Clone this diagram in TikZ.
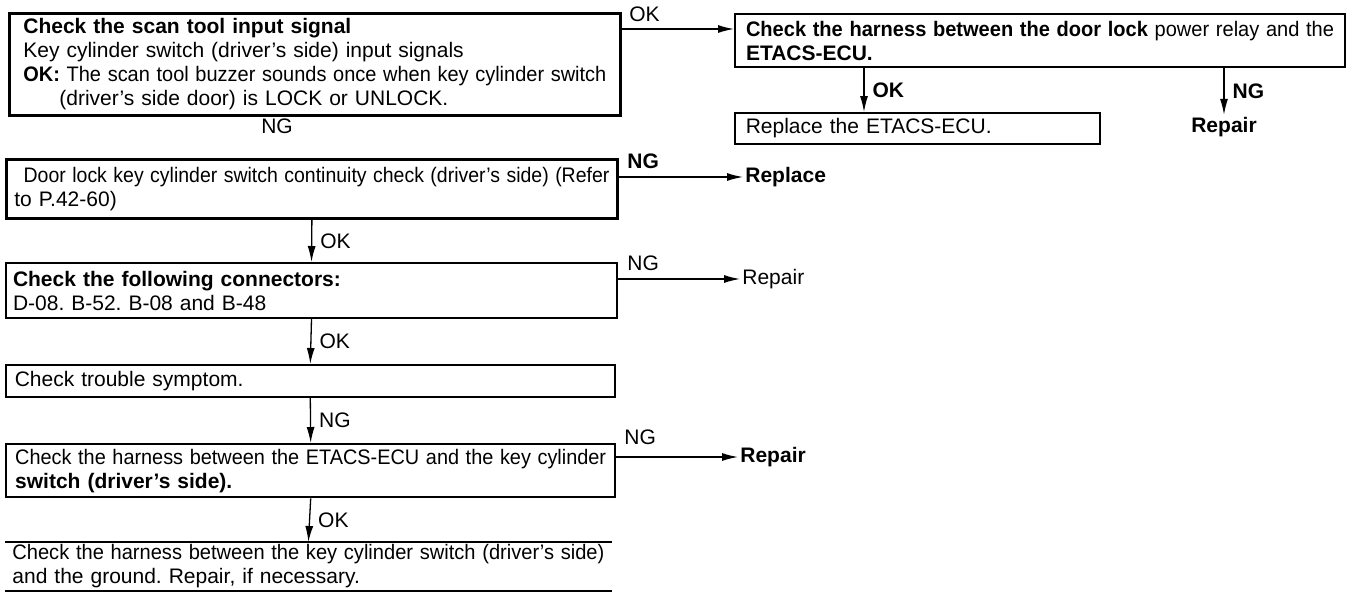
\documentclass[tikz,border=0pt]{standalone}
\usepackage{fontspec}
\setmainfont{Liberation Sans}
\usepackage{graphicx}
\usetikzlibrary{arrows.meta}
\frenchspacing

\newcommand{\txt}{\fontsize{10.5}{12}\selectfont}
\newsavebox\fitbox
% one full line: spread the spaces, or squeeze it if it is too long
\newcommand{\fullline}[1]{%
  \sbox\fitbox{#1}%
  \ifdim\wd\fitbox>\linewidth
    \resizebox{\linewidth}{\height}{\usebox\fitbox}%
  \else
    \makebox[\linewidth][s]{#1}%
  \fi}

\begin{document}
\begin{tikzpicture}[x=0.5pt,y=-0.5pt,>={Latex[length=8pt,width=4pt]},
  box/.style={draw,anchor=north west,inner ysep=0pt,align=left,font=\txt},
  flow/.style={->,line width=0.65pt},
  tag/.style={font=\txt,inner sep=1pt}]
  \useasboundingbox (0,0) rectangle (1360,596);
  % left column
  \node[box,line width=1.4pt,inner xsep=7pt,text width=291.5pt,minimum height=51pt] (scan) at (8,12)
    {\textbf{Check the scan tool input signal}\\
     Key cylinder switch (driver’s side) input signals\\
     \fullline{\textbf{OK:} The scan tool buzzer sounds once when key cylinder switch}\\
     \hspace*{18pt}(driver’s side door) is LOCK or UNLOCK.};
  \node[box,line width=1.4pt,inner xsep=4pt,text width=297.5pt,minimum height=29.5pt] (cont) at (5,158)
    {\fullline{\hspace*{5pt}Door lock key cylinder switch continuity check (driver’s side) (Refer}\\
     to P.42-60)};
  \node[box,line width=1pt,inner xsep=3.5pt,text width=298.5pt,minimum height=27.5pt] (conn) at (5,262)
    {\textbf{Check the following connectors:}\\
     D-08. B-52. B-08 and B-48};
  \node[box,line width=0.8pt,inner xsep=4.5pt,text width=295.5pt,minimum height=16pt] (symp) at (5,364)
    {Check trouble symptom.};
  \node[box,line width=1.2pt,inner xsep=4.5pt,text width=295.5pt,minimum height=26.5pt] (wire) at (5,443)
    {\fullline{Check the harness between the ETACS-ECU and the key cylinder}\\
     \textbf{switch (driver’s side).}};
  \node[box,draw=none,inner xsep=3.5pt,text width=296pt,minimum height=24pt] (gnd) at (5,542)
    {\fullline{Check the harness between the key cylinder switch (driver’s side)}\\
     and the ground. Repair, if necessary.};
  \draw[line width=1.2pt] (gnd.north west) -- (gnd.north east) (gnd.south west) -- (gnd.south east);
  % right column
  \node[box,line width=1pt,inner xsep=5.5pt,text width=294pt,minimum height=26.5pt] (harn) at (734,13)
    {\fullline{\textbf{Check the harness between the door lock} power relay and the}\\
     \textbf{ETACS-ECU.}};
  \node[box,line width=0.8pt,inner xsep=5.5pt,text width=171.5pt,minimum height=15.5pt] (ecu) at (734,112)
    {Replace the ETACS-ECU.};
  \node[tag,font=\txt\bfseries] (rep0) at (1224,127) {Repair};
  \node[tag,anchor=west] (rep1) at (743,177) {\bfseries Replace};
  \node[tag,anchor=west] (rep2) at (740,279) {Repair};
  \node[tag,anchor=west] (rep3) at (738,457) {\bfseries Repair};
  % labels
  \node[tag] (ngA) at (277,126) {NG};
  \node[tag,anchor=west] (okA) at (627,14) {OK};
  \node[tag,anchor=west] (ngB) at (625,161) {\bfseries NG};
  \node[tag,anchor=west] (ngC) at (625,263) {NG};
  \node[tag,anchor=west] (ngD) at (622,437) {NG};
  % connectors
  \coordinate (okrow) at (0,29);
  \coordinate (okcol) at (864,0);
  \draw[flow] (scan.east |- okrow) -- (harn.west |- okrow);
  \draw[flow] (harn.south -| okcol) -- (ecu.north -| okcol) node[tag,midway,right=3pt] {\bfseries OK};
  \draw[flow] (harn.south -| rep0.north) -- (rep0.north) node[tag,midway,right=3pt] {\bfseries NG};
  \draw[flow] (cont.east |- rep1.west) -- (rep1.west);
  \draw[flow] (conn.east |- rep2.west) -- (rep2.west);
  \draw[flow] (wire.east |- rep3.west) -- (rep3.west);
  \draw[flow] (cont.south) -- (conn.north) node[tag,midway,right=3pt] {OK};
  \draw[flow] (conn.south) -- (symp.north) node[tag,midway,right=3pt] {OK};
  \draw[flow] (symp.south) -- (wire.north) node[tag,midway,right=3pt] {NG};
  \draw[flow] (wire.south) -- (gnd.north) node[tag,midway,right=3pt] {OK};
\end{tikzpicture}
\end{document}
